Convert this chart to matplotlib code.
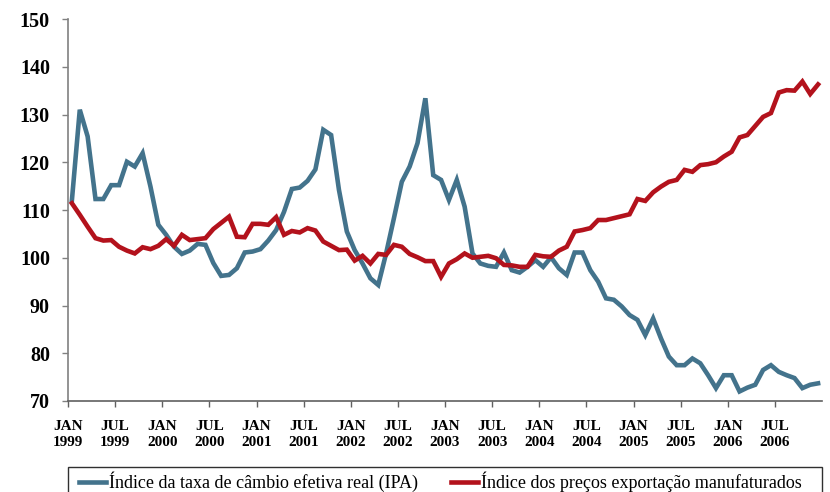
import numpy as np
import matplotlib
matplotlib.use("Agg")
from matplotlib import pyplot as plt
from matplotlib.patches import Rectangle

# monthly index values, jan 1999 .. dec 2006
cambio = [112.1, 131.0, 125.4, 112.3, 112.3, 115.2, 115.2, 120.1, 119.1, 121.9, 114.9, 106.9,
          104.8, 102.3, 100.8, 101.5, 102.9, 102.7, 98.9, 96.2, 96.4, 97.8, 101.1, 101.3,
          101.8, 103.6, 105.8, 109.6, 114.4, 114.7, 116.1, 118.5, 126.8, 125.7, 114.2, 105.5,
          101.6, 98.8, 95.7, 94.3, 100.9, 108.3, 115.9, 119.1, 124.0, 133.4, 117.3, 116.3,
          112.1, 116.3, 110.7, 100.9, 98.8, 98.3, 98.1, 101.1, 97.4, 96.9, 98.1, 99.5,
          98.1, 100.1, 97.8, 96.4, 101.1, 101.1, 97.4, 95.0, 91.5, 91.2, 89.8, 88.0,
          87.0, 83.8, 87.3, 83.1, 79.3, 77.5, 77.5, 78.9, 77.9, 75.4, 72.7, 75.4,
          75.4, 72.0, 72.8, 73.4, 76.5, 77.5, 76.1, 75.4, 74.8, 72.7, 73.4, 73.7]

precos = [111.4, 109.0, 106.5, 104.1, 103.6, 103.7, 102.3, 101.5, 100.9, 102.2, 101.8, 102.5,
          103.9, 102.5, 104.8, 103.7, 103.9, 104.1, 106.0, 107.3, 108.6, 104.4, 104.3, 107.1,
          107.1, 106.9, 108.5, 104.8, 105.6, 105.3, 106.2, 105.7, 103.4, 102.5, 101.6, 101.7,
          99.4, 100.4, 98.8, 100.8, 100.6, 102.7, 102.3, 100.8, 100.1, 99.3, 99.3, 96.0,
          98.8, 99.7, 100.9, 100.0, 100.2, 100.4, 99.9, 98.5, 98.4, 98.1, 98.1, 100.6,
          100.3, 100.2, 101.5, 102.3, 105.5, 105.8, 106.2, 107.9, 107.9, 108.3, 108.7, 109.1,
          112.3, 111.9, 113.7, 114.9, 115.9, 116.3, 118.4, 118.0, 119.4, 119.6, 120.0, 121.2,
          122.2, 125.2, 125.7, 127.6, 129.5, 130.3, 134.6, 135.1, 135.0, 136.9, 134.3, 136.3]

tick_labels = ['JAN\n1999', 'JUL\n1999', 'JAN\n2000', 'JUL\n2000', 'JAN\n2001', 'JUL\n2001',
               'JAN\n2002', 'JUL\n2002', 'JAN\n2003', 'JUL\n2003', 'JAN\n2004', 'JUL\n2004',
               'JAN\n2005', 'JUL\n2005', 'JAN\n2006', 'JUL\n2006']

nomes = ['Índice da taxa de câmbio efetiva real (IPA)',
         'Índice dos preços exportação manufaturados']

W, H = 830, 492
fig = plt.figure(figsize=(W / 100, H / 100), dpi=100)
ax = fig.add_axes([68 / W, 1 - 401 / H, (822 - 68) / W, (401 - 19) / H])

x = np.arange(len(cambio))
ax.plot(x, cambio, color='#43738c', linewidth=3.3, label=nomes[0], solid_joinstyle='miter')
ax.plot(x, precos, color='#b3121c', linewidth=3.3, label=nomes[1], solid_joinstyle='miter')

ax.set_xlim(-0.5, len(cambio) - 0.5)
ax.set_ylim(70, 150)
ax.set_yticks(np.arange(70, 151, 10))
ax.set_xticks(np.arange(len(tick_labels)) * 6 - 0.5)
ax.set_xticklabels(tick_labels, fontfamily='Liberation Serif', fontweight='bold',
                   fontsize=11, linespacing=1.25)
for lab in ax.get_yticklabels():
    lab.set_fontfamily('Liberation Serif')
    lab.set_fontweight('bold')
    lab.set_fontsize(14.5)

ax.spines['top'].set_visible(False)
ax.spines['right'].set_visible(False)
ax.spines['left'].set_color('#808080')
ax.spines['bottom'].set_color('#606060')
ax.spines['left'].set_linewidth(1.2)
ax.spines['bottom'].set_linewidth(1.2)
ax.tick_params(axis='y', direction='out', length=4, width=1, color='#808080', pad=9)
ax.tick_params(axis='x', direction='out', length=4, width=1, color='#606060', pad=10)

# legend box sits at the bottom edge, partly cut off like the original
box = Rectangle((68 / W, -0.05), (822 - 68) / W, 0.05 + 1 - 467 / H, transform=fig.transFigure,
                fill=False, edgecolor='#303030', linewidth=1.0)
fig.add_artist(box)
leg = fig.legend(loc='upper left', bbox_to_anchor=(74 / W, 1 - 467 / H),
                 ncol=2, frameon=False, borderaxespad=0,
                 handlelength=1.5, handletextpad=0.2, borderpad=0.25, columnspacing=1.8,
                 prop={'family': 'Liberation Serif', 'size': 13})

fig.savefig('out.png', dpi=100)
